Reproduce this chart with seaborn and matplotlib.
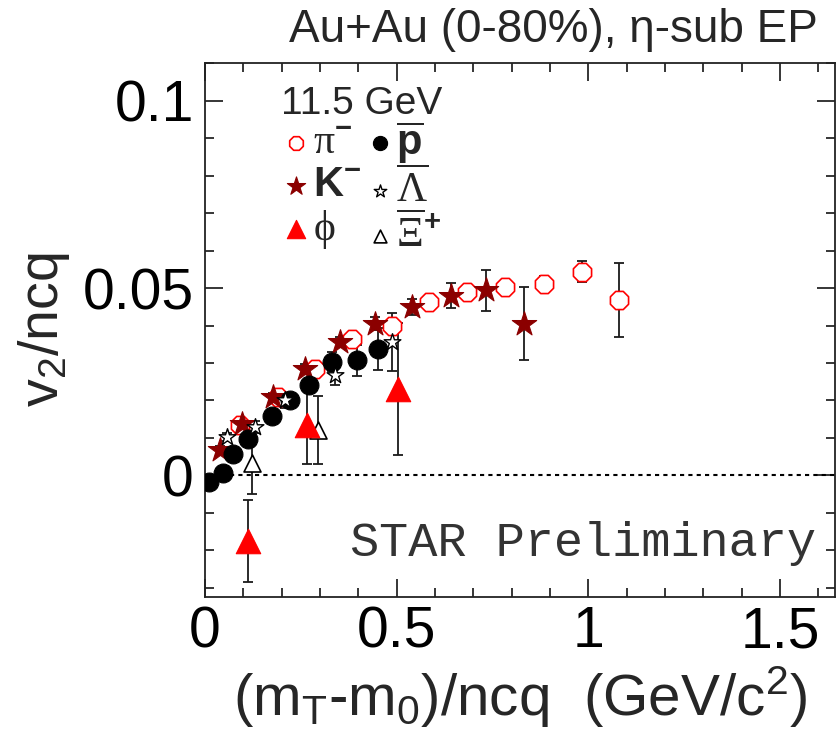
import numpy as np
import pandas as pd
import matplotlib
matplotlib.use("Agg")
import matplotlib.pyplot as plt
from matplotlib.ticker import MultipleLocator
import seaborn as sns

# ---------------- data ----------------
pim_x = [0.091, 0.190, 0.287, 0.383, 0.487, 0.583, 0.684, 0.783, 0.883, 0.984, 1.081]
pim_y = [0.0134, 0.0210, 0.0285, 0.0365, 0.0400, 0.0463, 0.0489, 0.0503, 0.0512, 0.0543, 0.0469]
pim_e = [0.0008, 0.0008, 0.0009, 0.0009, 0.0010, 0.0012, 0.0014, 0.0016, 0.0019, 0.0028, 0.0099]

km_x = [0.039, 0.096, 0.178, 0.261, 0.352, 0.444, 0.539, 0.641, 0.733, 0.833]
km_y = [0.0067, 0.0138, 0.0209, 0.0285, 0.0356, 0.0405, 0.0449, 0.0480, 0.0494, 0.0405]
km_e = [0.0010, 0.0010, 0.0010, 0.0012, 0.0014, 0.0017, 0.0022, 0.0033, 0.0055, 0.0097]

phi_x = [0.113, 0.265, 0.504]
phi_y = [-0.0176, 0.0135, 0.0230]
phi_e = [0.0109, 0.0105, 0.0177]

pbar_x = [0.010, 0.048, 0.074, 0.113, 0.176, 0.222, 0.270, 0.331, 0.396, 0.452]
pbar_y = [-0.0017, 0.0007, 0.0058, 0.0096, 0.0158, 0.0202, 0.0240, 0.0303, 0.0307, 0.0337]
pbar_e = [0.0008, 0.0008, 0.0009, 0.0010, 0.0012, 0.0014, 0.0018, 0.0025, 0.0041, 0.0056]

lam_x = [0.057, 0.130, 0.209, 0.339, 0.487]
lam_y = [0.0103, 0.0129, 0.0200, 0.0267, 0.0356]
lam_e = [0.0010, 0.0015, 0.0020, 0.0027, 0.0078]

xi_x = [0.123, 0.296]
xi_y = [0.0033, 0.0121]
xi_e = [0.0082, 0.0091]

xtick_vals = [0, 0.5, 1, 1.5]
xtick_labels = ["0", "0.5", "1", "1.5"]
ytick_vals = [0, 0.05, 0.1]
ytick_labels = ["0", "0.05", "0.1"]

# ---------------- style ----------------
sns.set_style("ticks")
plt.rcParams["font.family"] = ["Liberation Sans", "DejaVu Sans"]
plt.rcParams["mathtext.fontset"] = "custom"
plt.rcParams["mathtext.rm"] = "Liberation Serif"
plt.rcParams["mathtext.bf"] = "Liberation Sans:bold"
plt.rcParams["mathtext.sf"] = "Liberation Sans"
plt.rcParams["mathtext.default"] = "regular"

fig = plt.figure(figsize=(8.36, 7.46), dpi=100)
ax = fig.add_axes([205 / 836, 1 - 596.7 / 746, 630.3 / 836, 533.4 / 746])

species = [
    # x, y, e, marker, size, face, edge, lw, label
    (pim_x, pim_y, pim_e, "8", 200, "white", "#ff0000", 1.2, r"$\mathrm{\pi}^{\mathbf{-}}$"),
    (km_x, km_y, km_e, "*", 340, "#8b0000", "#8b0000", 0.8, r"$\mathbf{K}^{\mathbf{-}}$"),
    (pbar_x, pbar_y, pbar_e, "o", 185, "black", "black", 0.8, r"$\overline{\mathbf{p}}$"),
    (lam_x, lam_y, lam_e, "*", 160, "white", "black", 1.0, r"$\overline{\mathrm{\Lambda}}$"),
    (xi_x, xi_y, xi_e, "^", 150, "white", "black", 1.2, r"$\overline{\mathrm{\Xi}}^{\mathbf{+}}$"),
    (phi_x, phi_y, phi_e, "^", 310, "#ff0000", "#ff0000", 0.8, r"$\mathrm{\phi}$"),
]

ax.axhline(0, color="black", lw=1.5, ls=(0, (2, 2)), zorder=1)

handles = {}
for x, y, e, m, s, fc, ec, lw, lab in species:
    ax.errorbar(x, y, yerr=e, fmt="none", ecolor="#1a1a1a", elinewidth=1.3,
                capsize=3.3, capthick=1.3, zorder=2)
    df = pd.DataFrame({"x": x, "y": y})
    sns.scatterplot(data=df, x="x", y="y", marker=m, s=s, color=ec,
                    edgecolor=ec, linewidth=lw, ax=ax, zorder=3, legend=False)
    coll = ax.collections[-1]
    coll.set_facecolor(fc)
    coll.set_edgecolor(ec)
    coll.set_label(lab)
    handles[lab] = coll

order = [r"$\mathrm{\pi}^{\mathbf{-}}$", r"$\mathbf{K}^{\mathbf{-}}$", r"$\mathrm{\phi}$",
         r"$\overline{\mathbf{p}}$", r"$\overline{\mathrm{\Lambda}}$", r"$\overline{\mathrm{\Xi}}^{\mathbf{+}}$"]
leg = ax.legend([handles[k] for k in order], order, ncol=2, loc="upper left",
                bbox_to_anchor=(0.075, 0.935), frameon=False, fontsize=30,
                handletextpad=-0.15, columnspacing=-0.1, labelspacing=0.05,
                markerscale=0.75, borderpad=0.0, handlelength=1.1)

ax.text(0.121, 0.905, "11.5 GeV", transform=ax.transAxes, fontsize=28,
        ha="left", va="baseline")
ax.text(0.97, 0.10, "STAR Preliminary", transform=ax.transAxes, fontsize=35,
        family=["Liberation Mono", "DejaVu Sans Mono"], color="#333333",
        ha="right", va="center")
fig.text(818 / 836, 1 - 30 / 746, "Au+Au (0-80%), \u03b7-sub EP", fontsize=33,
         ha="right", va="center")

ax.set_xlim(0, 1.644)
ax.set_ylim(-0.0324, 0.11)
ax.set_xticks(xtick_vals, xtick_labels)
ax.set_yticks(ytick_vals, ytick_labels)
ax.xaxis.set_minor_locator(MultipleLocator(0.1))
ax.yaxis.set_minor_locator(MultipleLocator(0.01))
ax.tick_params(which="both", direction="in", top=True, right=True, width=1.1,
               colors="black", labelsize=41)
ax.tick_params(which="major", length=13)
ax.tick_params(which="minor", length=6.5)
ax.tick_params(axis="x", pad=6)
ax.tick_params(axis="y", pad=8)
for sp in ax.spines.values():
    sp.set_linewidth(1.3)
    sp.set_color("#222222")

ax.set_xlabel(r"(m$_{T}$-m$_{0}$)/ncq  (GeV/c$^{2}$)", fontsize=42, labelpad=4)
ax.set_ylabel(r"v$_{2}$/ncq", fontsize=40, labelpad=8)

fig.savefig("out.png", dpi=100)
